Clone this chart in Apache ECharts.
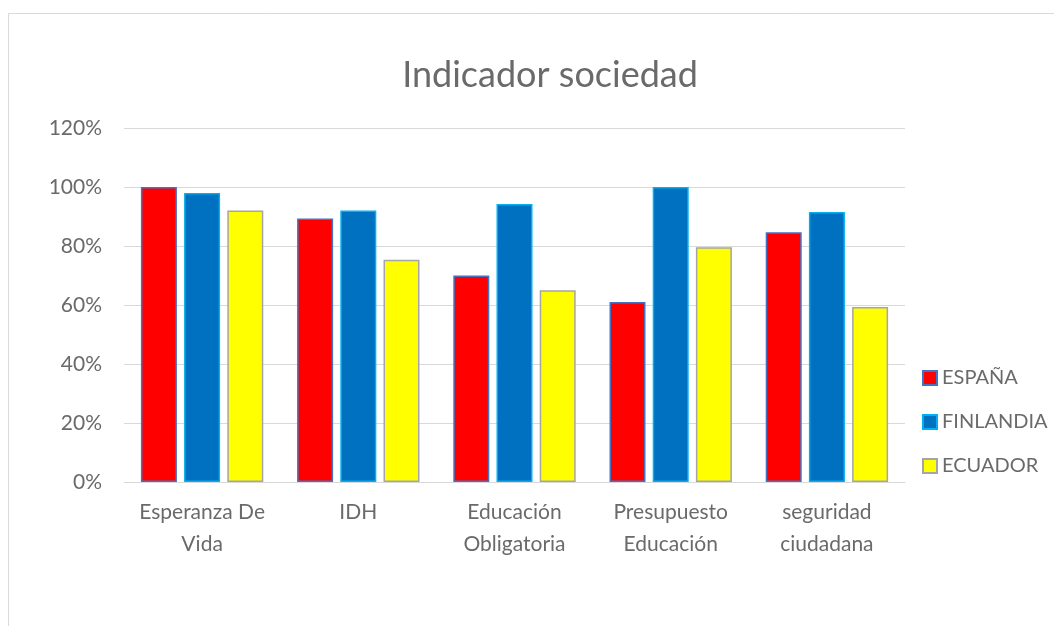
<!DOCTYPE html>
<html>
<head>
<meta charset="utf-8">
<script src="https://cdn.jsdelivr.net/npm/echarts@6/dist/echarts.min.js"></script>
<style>
html,body{margin:0;padding:0;background:#fff;}
#chart{width:1054px;height:626px;}
</style>
</head>
<body>
<div id="chart"></div>
<script>
// Indicador sociedad - barras agrupadas por pais
var categorias = ['Esperanza De\nVida', 'IDH', 'Educación\nObligatoria', 'Presupuesto\nEducación', 'seguridad\nciudadana'];
var espana = [100, 89.3, 70, 61, 84.7];
var finlandia = [98, 92, 94.2, 100, 91.5];
var ecuador = [92, 75.3, 65, 79.6, 59.3];
var paises = ['ESPAÑA', 'FINLANDIA', 'ECUADOR'];

var dom = document.getElementById('chart');
var myChart = echarts.init(dom);
var fuente = 'Lato, "Open Sans", sans-serif';
var gris = '#6a6a6a';

function serie(nombre, datos, color, borde) {
    return {
        name: nombre,
        type: 'bar',
        data: datos,
        barWidth: 36,
        barGap: '20%',
        itemStyle: {color: color, borderColor: borde, borderWidth: 1.5}
    };
}

var option = {
    backgroundColor: '#fff',
    animation: false,
    title: {
        text: 'Indicador sociedad',
        left: 545,
        textAlign: 'center',
        top: 52,
        textStyle: {fontFamily: fuente, fontSize: 36, fontWeight: 'normal', color: gris}
    },
    graphic: [{
        type: 'rect',
        shape: {x: 8.5, y: 13.5, width: 1060, height: 640},
        style: {fill: 'none', stroke: '#d9d9d9', lineWidth: 1},
        silent: true
    }],
    legend: {
        orient: 'vertical',
        left: 917,
        top: 363,
        itemWidth: 14,
        itemHeight: 14,
        itemGap: 24,
        icon: 'rect',
        textStyle: {fontFamily: fuente, fontSize: 20, color: gris},
        data: paises
    },
    grid: {left: 124, right: 149, top: 128, bottom: 144},
    xAxis: {
        type: 'category',
        data: categorias,
        axisLine: {lineStyle: {color: '#d9d9d9'}},
        axisTick: {show: false},
        axisLabel: {interval: 0, fontFamily: fuente, fontSize: 21, color: gris, lineHeight: 32, margin: 14}
    },
    yAxis: {
        type: 'value',
        min: 0,
        max: 120,
        interval: 20,
        axisLine: {show: false},
        axisTick: {show: false},
        splitLine: {lineStyle: {color: '#d9d9d9', width: 1}},
        axisLabel: {fontFamily: fuente, fontSize: 21, color: gris, margin: 22, formatter: '{value}%'}
    },
    series: [
        serie('ESPAÑA', espana, '#ff0000', '#4472c4'),
        serie('FINLANDIA', finlandia, '#0070c0', '#00b0f0'),
        serie('ECUADOR', ecuador, '#ffff00', '#a5a5a5')
    ]
};
myChart.setOption(option, true);
</script>
</body>
</html>
